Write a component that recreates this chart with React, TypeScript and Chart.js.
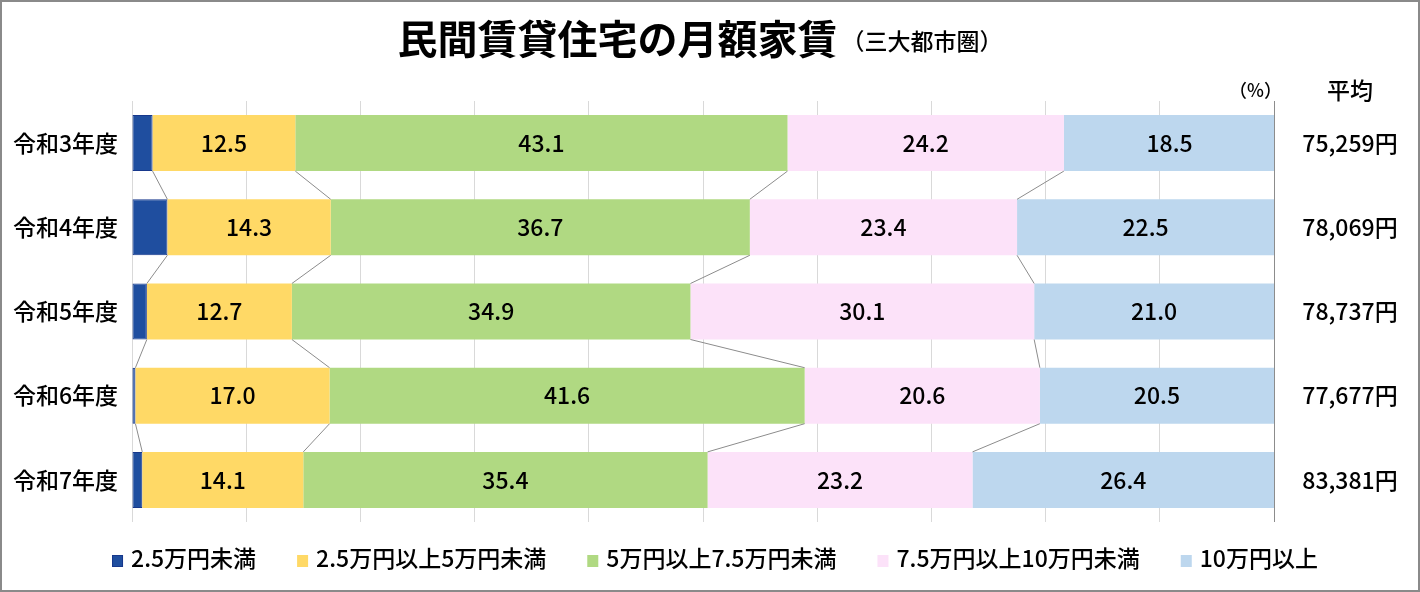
import { useEffect, useRef } from "react";
import { Chart, registerables } from "chart.js";

Chart.register(...registerables);

const FONT = "'Noto Sans CJK JP', 'Noto Sans', sans-serif";

const years = ["令和3年度", "令和4年度", "令和5年度", "令和6年度", "令和7年度"];
const seriesNames = [
  "2.5万円未満",
  "2.5万円以上5万円未満",
  "5万円以上7.5万円未満",
  "7.5万円以上10万円未満",
  "10万円以上",
];
const under25 = [1.8, 3.1, 1.3, 0.3, 0.9];
const from25to5 = [12.5, 14.3, 12.7, 17.0, 14.1];
const from5to75 = [43.1, 36.7, 34.9, 41.6, 35.4];
const from75to10 = [24.2, 23.4, 30.1, 20.6, 23.2];
const over10 = [18.5, 22.5, 21.0, 20.5, 26.4];
const averageRent = [75259, 78069, 78737, 77677, 83381];

const fills = ["#1F4E9F", "#FFD966", "#B0D982", "#FCE2F9", "#BDD7EE"];

// Excel-style series lines between neighbouring bars
const seriesLines = {
  id: "seriesLines",
  afterDatasetsDraw(chart: any) {
    const { ctx } = chart;
    const n = chart.data.datasets.length;
    ctx.save();
    ctx.strokeStyle = "#8c8c8c";
    ctx.lineWidth = 1;
    for (let d = 0; d < n - 1; d++) {
      const bars = chart.getDatasetMeta(d).data;
      for (let i = 0; i < bars.length - 1; i++) {
        const a = bars[i];
        const b = bars[i + 1];
        ctx.beginPath();
        ctx.moveTo(a.x, a.y + a.height / 2);
        ctx.lineTo(b.x, b.y - b.height / 2);
        ctx.stroke();
      }
    }
    ctx.restore();
  },
};

const valueLabels = {
  id: "valueLabels",
  afterDatasetsDraw(chart: any) {
    const { ctx } = chart;
    ctx.save();
    ctx.font = `500 23px ${FONT}`;
    ctx.fillStyle = "#000";
    ctx.textAlign = "center";
    ctx.textBaseline = "middle";
    chart.data.datasets.forEach((ds: any, d: number) => {
      if (d === 0) return;
      chart.getDatasetMeta(d).data.forEach((bar: any, i: number) => {
        ctx.fillText(ds.data[i].toFixed(1), (bar.x + bar.base) / 2, bar.y);
      });
    });
    ctx.restore();
  },
};

const decorations = {
  id: "decorations",
  afterDraw(chart: any) {
    const { ctx, chartArea } = chart;
    ctx.save();

    // title
    ctx.textBaseline = "middle";
    ctx.fillStyle = "#000";
    const main = "民間賃貸住宅の月額家賃";
    const sub = "（三大都市圏）";
    ctx.font = `bold 40px ${FONT}`;
    const w1 = ctx.measureText(main).width;
    ctx.font = `500 23px ${FONT}`;
    const w2 = ctx.measureText(sub).width;
    const startX = 700 - (w1 + 4 + w2) / 2;
    ctx.textAlign = "left";
    ctx.font = `bold 40px ${FONT}`;
    ctx.fillText(main, startX, 39);
    ctx.font = `500 23px ${FONT}`;
    ctx.fillText(sub, startX + w1 + 4, 41);

    // unit and average column
    ctx.font = `500 18px ${FONT}`;
    ctx.textAlign = "right";
    ctx.fillText("（%）", chartArea.right + 8, 90);
    ctx.font = `500 23px ${FONT}`;
    ctx.textAlign = "center";
    ctx.fillText("平均", 1350, 90);
    const yMeta = chart.getDatasetMeta(0).data;
    averageRent.forEach((v, i) => {
      ctx.fillText(v.toLocaleString("en-US") + "円", 1350, yMeta[i].y);
    });

    // legend
    ctx.font = `500 23px ${FONT}`;
    ctx.textAlign = "left";
    const box = 11;
    const gap = 8;
    const itemGap = 41;
    const widths = chart.data.datasets.map(
      (ds: any) => box + gap + ctx.measureText(ds.label).width
    );
    const total =
      widths.reduce((s: number, w: number) => s + w, 0) + itemGap * (widths.length - 1);
    let x = 715 - total / 2;
    chart.data.datasets.forEach((ds: any, i: number) => {
      ctx.fillStyle = ds.backgroundColor;
      ctx.fillRect(x, 555, box, 12);
      if (ds.borderWidth) {
        ctx.strokeStyle = ds.borderColor;
        ctx.lineWidth = 1;
        ctx.strokeRect(x + 0.5, 555.5, box - 1, 11);
      }
      ctx.fillStyle = "#000";
      ctx.fillText(ds.label, x + box + gap, 558);
      x += widths[i] + itemGap;
    });

    // outer frame
    ctx.strokeStyle = "#8a8a8a";
    ctx.lineWidth = 2;
    ctx.strokeRect(1, 1, chart.width - 2, chart.height - 2);
    ctx.restore();
  },
};

export default function App() {
  const canvasRef = useRef<HTMLCanvasElement>(null);

  useEffect(() => {
    if (!canvasRef.current) return;
    const series = [under25, from25to5, from5to75, from75to10, over10];

    const chart = new Chart(canvasRef.current, {
      type: "bar",
      data: {
        labels: years,
        datasets: series.map((data, i) => ({
          label: seriesNames[i],
          data,
          backgroundColor: fills[i],
          borderColor: i === 0 ? "#17388C" : fills[i],
          borderWidth: i === 0 ? 1 : 0,
          borderSkipped: false,
          barPercentage: 0.665,
          categoryPercentage: 1,
        })),
      },
      options: {
        indexAxis: "y",
        responsive: true,
        maintainAspectRatio: false,
        animation: false,
        layout: { padding: { top: 101, right: 146, bottom: 70, left: 0 } },
        plugins: {
          legend: { display: false },
          tooltip: { enabled: false },
        },
        scales: {
          x: {
            stacked: true,
            min: 0,
            max: 100,
            ticks: { display: false, stepSize: 10 },
            grid: {
              drawTicks: false,
              color: (c: any) => (c.tick && c.tick.value === 100 ? "#8c8c8c" : "#d9d9d9"),
            },
            border: { display: false },
            afterFit: (scale: any) => {
              scale.height = 0;
            },
          },
          y: {
            stacked: true,
            ticks: {
              color: "#000",
              padding: 14,
              font: { family: FONT, size: 23, weight: 500 },
            },
            grid: { display: false, drawTicks: false },
            border: { display: false },
            afterFit: (scale: any) => {
              scale.width = 132;
            },
          },
        },
      },
      plugins: [seriesLines, valueLabels, decorations],
    });

    return () => {
      chart.destroy();
    };
  }, []);

  return (
    <div style={{ position: "fixed", left: 0, top: 0, width: 1420, height: 592, background: "#fff" }}>
      <canvas ref={canvasRef} />
    </div>
  );
}
